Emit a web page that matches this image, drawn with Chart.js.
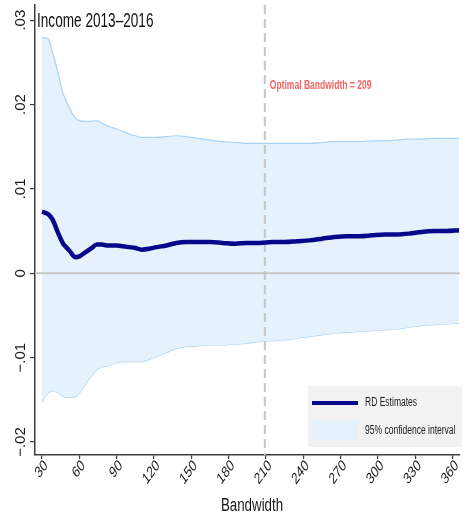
<!DOCTYPE html>
<html>
<head>
<meta charset="utf-8">
<script src="https://cdn.jsdelivr.net/npm/chart.js@4/dist/chart.umd.min.js"></script>
<style>
  html, body { margin: 0; padding: 0; background: #fff; }
  canvas { display: block; }
</style>
</head>
<body>
<canvas id="c" width="465" height="518"></canvas>
<script>
// Bandwidth grid and the RD estimate with its 95% confidence band
const bandwidths = [30, 32, 35, 38, 40, 42, 45, 47, 50, 53, 55, 57, 60, 63, 66, 70, 74, 78, 82, 86, 90, 95, 100, 105, 110, 116, 122, 130, 138, 146, 155, 165, 175, 185, 195, 205, 215, 225, 235, 245, 255, 265, 275, 285, 295, 305, 315, 325, 335, 345, 355, 365];
const rdEstimate = [0.0073, 0.0072, 0.0070, 0.0065, 0.0059, 0.0051, 0.0041, 0.0035, 0.0030, 0.0025, 0.0021, 0.0019, 0.0020, 0.0023, 0.0026, 0.0030, 0.0034, 0.0034, 0.0033, 0.0033, 0.0033, 0.0032, 0.0031, 0.0030, 0.0028, 0.0029, 0.0031, 0.0033, 0.0036, 0.0037, 0.0037, 0.0037, 0.0036, 0.0035, 0.0036, 0.0036, 0.0037, 0.0037, 0.0038, 0.0039, 0.0041, 0.0043, 0.0044, 0.0044, 0.0045, 0.0046, 0.0046, 0.0047, 0.0049, 0.0050, 0.0050, 0.0051];
const ciUpper = [0.0279, 0.0279, 0.0278, 0.0264, 0.0254, 0.0243, 0.0224, 0.0213, 0.0202, 0.0193, 0.0188, 0.0184, 0.0181, 0.0180, 0.0180, 0.0180, 0.0181, 0.0178, 0.0175, 0.0173, 0.0171, 0.0168, 0.0165, 0.0163, 0.0161, 0.0161, 0.0161, 0.0162, 0.0163, 0.0162, 0.0160, 0.0158, 0.0156, 0.0155, 0.0154, 0.0154, 0.0154, 0.0154, 0.0154, 0.0154, 0.0155, 0.0156, 0.0156, 0.0156, 0.0157, 0.0157, 0.0158, 0.0159, 0.0159, 0.0160, 0.0160, 0.0160];
const ciLower = [-0.0153, -0.0147, -0.0142, -0.0139, -0.0140, -0.0141, -0.0144, -0.0146, -0.0147, -0.0147, -0.0147, -0.0146, -0.0142, -0.0136, -0.0129, -0.0121, -0.0114, -0.0111, -0.0110, -0.0108, -0.0106, -0.0105, -0.0105, -0.0105, -0.0105, -0.0102, -0.0099, -0.0094, -0.0089, -0.0087, -0.0086, -0.0085, -0.0085, -0.0084, -0.0083, -0.0081, -0.0080, -0.0079, -0.0077, -0.0075, -0.0073, -0.0071, -0.0070, -0.0069, -0.0068, -0.0067, -0.0066, -0.0064, -0.0062, -0.0061, -0.0060, -0.0059];

const xTickValues = [30, 60, 90, 120, 150, 180, 210, 240, 270, 300, 330, 360];
const yTickValues = [-0.02, -0.01, 0, 0.01, 0.02, 0.03];
const yTickLabels = ['\u2212.02', '\u2212.01', '0', '.01', '.02', '.03'];
const optimalBandwidth = 209;
const titleText = 'Income 2013\u20132016';
const optimalLabel = 'Optimal Bandwidth = 209';
const xAxisTitle = 'Bandwidth';
const legendLabels = ['RD Estimates', '95% confidence interval'];

const FONT = "'Liberation Sans', Arial, sans-serif";
const NAVY = '#07078a';
const BAND_FILL = '#e5f2fd';
const BAND_EDGE = '#a9d3f6';
const AXIS = '#3c3c3c';
const TEXT = '#1a1a1a';
const SQUEEZE = 0.71; // horizontally condensed lettering

const toPoints = ys => bandwidths.map((x, i) => ({ x, y: ys[i] }));

// condensed text helper
function narrowText(ctx, str, x, y, opts) {
  ctx.save();
  ctx.translate(x, y);
  ctx.scale(opts.sx ?? SQUEEZE, 1);
  if (opts.rot) ctx.rotate(opts.rot);
  ctx.font = opts.font;
  ctx.fillStyle = opts.color || TEXT;
  ctx.textAlign = opts.align || 'left';
  ctx.textBaseline = opts.baseline || 'middle';
  ctx.fillText(str, 0, 0);
  ctx.restore();
}

// Reference lines (zero line and optimal bandwidth) sit above the band, under the estimate
const refLines = {
  id: 'refLines',
  beforeDatasetDraw(chart, args) {
    if (args.index !== 0) return;
    const { ctx, chartArea: a, scales: { x, y } } = chart;
    ctx.save();
    ctx.strokeStyle = '#c6c6c6';
    ctx.lineWidth = 2;
    const y0 = y.getPixelForValue(0);
    ctx.beginPath(); ctx.moveTo(a.left, y0); ctx.lineTo(a.right, y0); ctx.stroke();
    const xb = x.getPixelForValue(optimalBandwidth);
    ctx.setLineDash([9, 5]);
    ctx.beginPath(); ctx.moveTo(xb, a.top); ctx.lineTo(xb, a.bottom); ctx.stroke();
    ctx.restore();
  }
};

// Title, annotation, tick labels, axis title and the legend box
const decorations = {
  id: 'decorations',
  afterDraw(chart) {
    const { ctx, chartArea: a, scales: { x, y } } = chart;

    narrowText(ctx, titleText, a.left + 2, 21, { font: `20px ${FONT}`, sx: 0.68, color: '#111' });
    narrowText(ctx, optimalLabel, x.getPixelForValue(optimalBandwidth) + 5, 86,
      { font: `bold 12px ${FONT}`, color: '#f26464' });

    // y tick labels, rotated to read upwards
    yTickValues.forEach((v, i) => {
      ctx.save();
      ctx.translate(25, y.getPixelForValue(v));
      ctx.rotate(-Math.PI / 2);
      ctx.font = `15px ${FONT}`;
      ctx.fillStyle = TEXT;
      ctx.textAlign = 'center';
      ctx.textBaseline = 'alphabetic';
      ctx.fillText(yTickLabels[i], 0, 0);
      ctx.restore();
    });

    // x tick labels, slanted
    xTickValues.forEach(v => {
      narrowText(ctx, String(v), x.getPixelForValue(v) + 4, a.bottom + 8,
        { font: `16px ${FONT}`, sx: 0.72, rot: -Math.PI / 4, align: 'right' });
    });

    narrowText(ctx, xAxisTitle, 252, 506, { font: `18px ${FONT}`, sx: 0.74, align: 'center' });

    // legend
    const lx = 308, ly = 386, lw = 154, lh = 61;
    ctx.save();
    ctx.fillStyle = '#f2f2f2';
    ctx.fillRect(lx, ly, lw, lh);
    ctx.strokeStyle = NAVY;
    ctx.lineWidth = 4;
    ctx.beginPath(); ctx.moveTo(lx + 4, ly + 17); ctx.lineTo(lx + 50, ly + 17); ctx.stroke();
    ctx.fillStyle = BAND_FILL;
    ctx.fillRect(lx + 4, ly + 34, 46, 20);
    ctx.restore();
    narrowText(ctx, legendLabels[0], lx + 57, ly + 17, { font: `12px ${FONT}` });
    narrowText(ctx, legendLabels[1], lx + 57, ly + 45, { font: `12px ${FONT}` });
  }
};

new Chart(document.getElementById('c'), {
  type: 'line',
  data: {
    datasets: [
      {
        label: legendLabels[0],
        data: toPoints(rdEstimate),
        borderColor: NAVY,
        borderWidth: 4.5,
        pointRadius: 0,
        cubicInterpolationMode: 'monotone',
        fill: false
      },
      {
        label: 'upper',
        data: toPoints(ciUpper),
        borderColor: BAND_EDGE,
        borderWidth: 1.2,
        backgroundColor: BAND_FILL,
        pointRadius: 0,
        cubicInterpolationMode: 'monotone',
        fill: '+1'
      },
      {
        label: 'lower',
        data: toPoints(ciLower),
        borderColor: BAND_EDGE,
        borderWidth: 1.2,
        pointRadius: 0,
        cubicInterpolationMode: 'monotone',
        fill: false
      }
    ]
  },
  options: {
    responsive: false,
    animation: false,
    devicePixelRatio: 1,
    layout: { padding: { top: 5, right: 5, left: 0, bottom: 0 } },
    plugins: { legend: { display: false }, tooltip: { enabled: false } },
    scales: {
      x: {
        type: 'linear',
        min: 24.38,
        max: 365.8,
        afterBuildTicks: s => { s.ticks = xTickValues.map(v => ({ value: v })); },
        afterFit: s => { s.height = 63; },
        border: { display: true, color: AXIS, width: 1.5 },
        grid: { drawOnChartArea: false, drawTicks: true, tickLength: 4, color: AXIS, lineWidth: 1.2 },
        ticks: { display: false }
      },
      y: {
        type: 'linear',
        min: -0.02154,
        max: 0.0318,
        afterBuildTicks: s => { s.ticks = yTickValues.map(v => ({ value: v })); },
        afterFit: s => { s.width = 35; },
        border: { display: true, color: AXIS, width: 1.5 },
        grid: { drawOnChartArea: false, drawTicks: true, tickLength: 5, color: AXIS, lineWidth: 1.2 },
        ticks: { display: false }
      }
    }
  },
  plugins: [refLines, decorations]
});
</script>
</body>
</html>
